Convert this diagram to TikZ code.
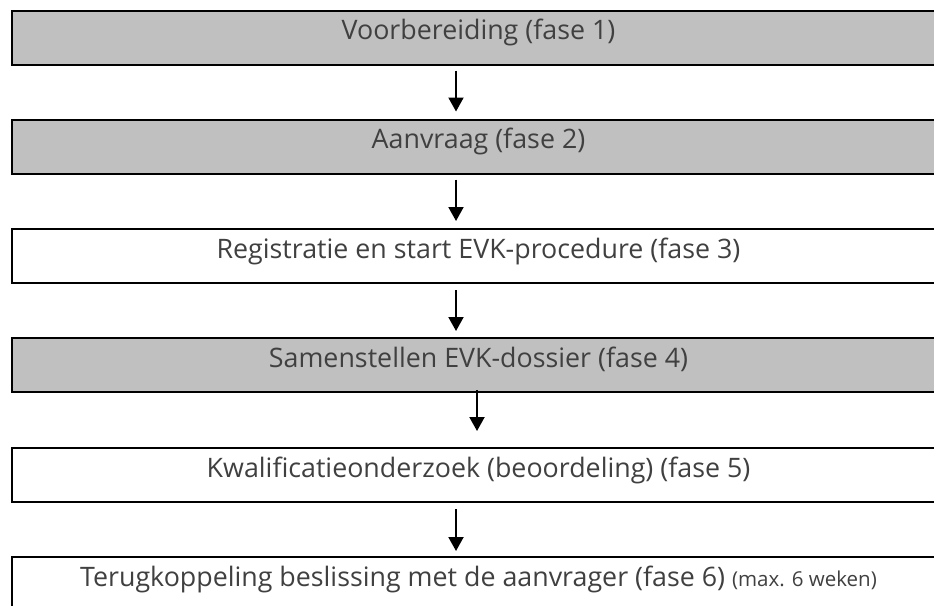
\documentclass[tikz,border=0pt]{standalone}
\usepackage{fontspec}
\setsansfont{Open Sans}
\usetikzlibrary{arrows.meta}
\definecolor{grijs}{HTML}{C0C0C0}
\definecolor{tekst}{HTML}{404040}
\newcommand{\fasefont}{\sffamily\fontsize{26.8}{30}\selectfont}
\newcommand{\klein}{\fontsize{20.5}{24}\selectfont}
\begin{document}
\begin{tikzpicture}[x=1pt,y=-1pt,
	fase/.style={ draw, line width=2pt, minimum width=933pt, inner sep=0pt, text height=29pt, text depth=25pt, text=tekst, font=\fasefont },
	fasegrijs/.style={ fase, fill=grijs },
	pijl/.style={ line width=2pt, -{Triangle[width=15pt,length=14pt]} }
]
\useasboundingbox (0,0) rectangle (934,605);
\clip (0,0) rectangle (934,605);

\node at (478.5,37.5) (f1) [fasegrijs] {Voorbereiding (fase 1)};
\node at (478.5,146.5) (f2) [fasegrijs] {Aanvraag (fase 2)};
\node at (478.5,256) (f3) [fase] {Registratie en start EVK-procedure (fase 3)};
\node at (478.5,365) (f4) [fasegrijs] {Samenstellen EVK-dossier (fase 4)};
\node at (478.5,475) (f5) [fase] {Kwalificatieonderzoek (beoordeling) (fase 5)};
\node at (478.5,584) (f6) [fase] {Terugkoppeling beslissing met de aanvrager (fase 6) {\klein(max. 6 weken)}};

\foreach \van/\naar/\dx/\boven/\onder in {f1/f2/-22.5/5/7, f2/f3/-22.5/5/7, f3/f4/-22.5/6/6, f4/f5/-1.5/-3/16, f5/f6/-22.5/6/5}
	\draw[pijl] ([xshift=\dx pt,yshift=-\boven pt]\van.south) to ([xshift=\dx pt,yshift=\onder pt]\naar.north);

\end{tikzpicture}
\end{document}
